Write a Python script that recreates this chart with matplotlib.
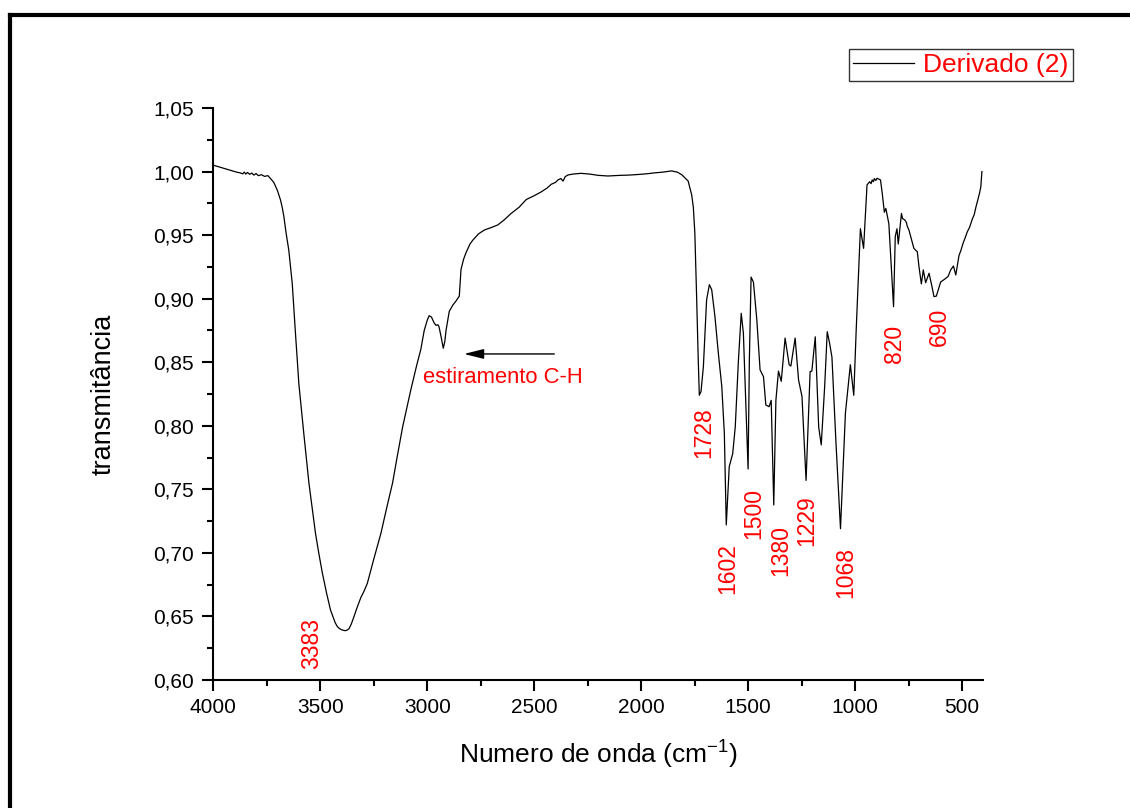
import matplotlib
matplotlib.use("Agg")
import matplotlib.pyplot as plt
from matplotlib.lines import Line2D
from matplotlib.ticker import MultipleLocator, FuncFormatter

plt.rcParams['font.family'] = ['Liberation Sans', 'DejaVu Sans']
plt.rcParams['mathtext.fontset'] = 'custom'
plt.rcParams['mathtext.rm'] = 'Liberation Sans'
plt.rcParams['mathtext.it'] = 'Liberation Sans:italic'

# FTIR spectrum of "Derivado (2)": wavenumber (cm-1) and transmittance
wavenumber = [
    4000, 3960, 3920, 3890, 3875, 3862, 3855, 3848, 3840, 3830, 3820, 3810,
    3800, 3790, 3775, 3760, 3745, 3735, 3717, 3700, 3686, 3678, 3670, 3660,
    3647, 3631, 3616, 3600, 3577, 3553, 3522, 3505, 3490, 3470, 3452, 3440,
    3430, 3420, 3410, 3400, 3390, 3383, 3375, 3365, 3355, 3342, 3330, 3310,
    3295, 3280, 3250, 3217, 3190, 3162, 3140, 3115,
    3077, 3050, 3030, 3014, 3000, 2991, 2980, 2968, 2959, 2950, 2945, 2935,
    2925, 2918, 2912, 2897, 2880, 2866, 2850, 2842, 2830, 2819, 2800, 2787,
    2760, 2733, 2700, 2670, 2640, 2608, 2570, 2537, 2500, 2467, 2440, 2420,
    2400, 2389, 2375, 2365, 2355, 2342, 2320, 2280, 2240, 2200, 2155, 2100,
    2060, 2030, 1990, 1960, 1936, 1900, 1858, 1830, 1810, 1795, 1780, 1772,
    1764, 1756, 1749, 1741, 1733, 1728, 1720, 1709, 1694, 1681, 1670, 1655,
    1639, 1623, 1611, 1602, 1588, 1572, 1560, 1545, 1532, 1522, 1500, 1494,
    1486, 1475, 1459, 1444, 1428, 1417, 1402, 1392, 1380, 1370, 1358, 1345,
    1327, 1308, 1300, 1280, 1264, 1248, 1229, 1210, 1202, 1186, 1170, 1158,
    1142, 1130, 1119, 1108, 1089, 1068, 1045, 1022, 1006, 994, 980, 975,
    960, 944, 932, 925, 920, 914, 910, 903, 897, 888, 881, 873,
    863, 856, 842, 820, 812, 804, 798, 783, 778, 768, 760, 756,
    748, 740, 725, 716, 709, 701, 690, 681, 670, 654, 642, 631,
    620, 600, 588, 576, 565, 553, 540, 529, 514, 505, 495, 485,
    475, 465, 451, 443, 435, 423, 418, 412, 407,
]
transmittance = [
    1.005, 1.003, 1.001, 0.9995, 0.9990, 0.9982, 0.9996, 0.9980, 0.9993, 0.9978, 0.9988, 0.9972,
    0.9985, 0.9968, 0.9975, 0.9962, 0.9968, 0.9950, 0.9914, 0.9850, 0.9777, 0.9720, 0.9645, 0.9520,
    0.9380, 0.9120, 0.8730, 0.8330, 0.7940, 0.7550, 0.7150, 0.6980, 0.6840, 0.6680, 0.6550, 0.6495,
    0.6450, 0.6420, 0.6404, 0.6395, 0.6390, 0.6388, 0.6392, 0.6405, 0.6440, 0.6500, 0.6560, 0.6650,
    0.6700, 0.6760, 0.6950, 0.7150, 0.7350, 0.7550, 0.7760, 0.7990,
    0.8280, 0.8470, 0.8600, 0.8750, 0.8830, 0.8866, 0.8855, 0.8810, 0.8790, 0.8795, 0.8780, 0.8700,
    0.8610, 0.8660, 0.8750, 0.8900, 0.8950, 0.8980, 0.9020, 0.9230, 0.9310, 0.9360, 0.9430, 0.9460,
    0.9510, 0.9540, 0.9560, 0.9580, 0.9620, 0.9670, 0.9720, 0.9780, 0.9810, 0.9840, 0.9870, 0.9900,
    0.9915, 0.9934, 0.9945, 0.9925, 0.9960, 0.9973, 0.9980, 0.9986, 0.9980, 0.9970, 0.9965, 0.9970,
    0.9972, 0.9975, 0.9980, 0.9985, 0.9990, 0.9995, 1.0005, 0.9995, 0.9975, 0.9950, 0.9925, 0.9870,
    0.9820, 0.9720, 0.9520, 0.9040, 0.8520, 0.8240, 0.8270, 0.8465, 0.8990, 0.9110, 0.9070, 0.8860,
    0.8570, 0.8310, 0.7940, 0.7220, 0.7680, 0.7780, 0.7990, 0.8520, 0.8885, 0.8728, 0.7660, 0.8520,
    0.9170, 0.9130, 0.8830, 0.8440, 0.8386, 0.8164, 0.8150, 0.8200, 0.7377, 0.8200, 0.8430, 0.8350,
    0.8690, 0.8480, 0.8470, 0.8690, 0.8360, 0.8230, 0.7570, 0.8426, 0.8430, 0.8700, 0.7990, 0.7850,
    0.8310, 0.8740, 0.8650, 0.8540, 0.7860, 0.7190, 0.8100, 0.8480, 0.8240, 0.8780, 0.9360, 0.9550,
    0.9396, 0.9895, 0.9920, 0.9905, 0.9934, 0.9920, 0.9945, 0.9930, 0.9947, 0.9940, 0.9934, 0.9830,
    0.9680, 0.9710, 0.9590, 0.8937, 0.9490, 0.9550, 0.9430, 0.9670, 0.9630, 0.9620, 0.9600, 0.9570,
    0.9540, 0.9490, 0.9396, 0.9380, 0.9370, 0.9250, 0.9116, 0.9226, 0.9126, 0.9200, 0.9108, 0.9016,
    0.9020, 0.9130, 0.9145, 0.9160, 0.9175, 0.9226, 0.9257, 0.9186, 0.9340, 0.9380, 0.9436, 0.9480,
    0.9527, 0.9560, 0.9630, 0.9660, 0.9720, 0.9800, 0.9830, 0.9880, 1.0000,
]

# Labelled band positions (cm-1) with label anchor (x, top y)
peak_labels = ['3383', '1728', '1602', '1500', '1380', '1229', '1068', '820', '690']
peak_label_x = [3542, 1707, 1597, 1475, 1348, 1226, 1044, 814, 608]
peak_label_y = [0.6488, 0.8148, 0.7078, 0.7510, 0.7220, 0.7456, 0.7046, 0.8793, 0.8927]

series_name = 'Derivado (2)'
x_title = 'Numero de onda (cm$^{\\mathrm{-1}}$)'
y_title = 'transmitância'

fig = plt.figure(figsize=(11.3, 8.08), dpi=100)
ax = fig.add_axes([0.18876, 0.15842, 0.6815, 0.70792])

line, = ax.plot(wavenumber, transmittance, color='black', lw=0.9)

ax.set_xlim(4000, 400)
ax.set_ylim(0.60, 1.05)

for side in ('top', 'right'):
    ax.spines[side].set_visible(False)
for side in ('left', 'bottom'):
    ax.spines[side].set_linewidth(1.5)

ax.xaxis.set_major_locator(MultipleLocator(500))
ax.xaxis.set_minor_locator(MultipleLocator(250))
ax.yaxis.set_major_locator(MultipleLocator(0.05))
ax.yaxis.set_minor_locator(MultipleLocator(0.025))
ax.yaxis.set_major_formatter(FuncFormatter(lambda v, p: f'{v:.2f}'.replace('.', ',')))

ax.tick_params(which='major', direction='out', length=8, width=1.5, labelsize=15)
ax.tick_params(which='minor', direction='out', length=4.3, width=1.5)
ax.tick_params(axis='y', which='major', pad=6)
ax.tick_params(axis='x', which='major', pad=5)

ax.set_xlabel(x_title, fontsize=19, va='baseline')
ax.xaxis.set_label_coords(0.4996, -0.1469)
ax.set_ylabel(y_title, fontsize=19.5)
ax.yaxis.set_label_coords(-0.125, 0.5)

for lab, lx, ly in zip(peak_labels, peak_label_x, peak_label_y):
    ax.text(lx, ly, lab, rotation=90, ha='center', va='top',
            color='red', fontsize=16.5)

# C-H stretching annotation
ax.annotate('', xy=(2828, 0.8565), xytext=(2406, 0.8565),
            arrowprops=dict(arrowstyle='-|>,head_length=1.2,head_width=0.3',
                            color='black', lw=1, mutation_scale=10,
                            shrinkA=0, shrinkB=0))
ax.text(3018, 0.8337, 'estiramento C-H', color='red', fontsize=15.8,
        ha='left', va='baseline')

leg = fig.legend([line], [series_name], loc='upper right',
                 bbox_to_anchor=(0.9493, 0.939), fontsize=19,
                 frameon=True, fancybox=False, handlelength=2.3,
                 handletextpad=0.35, borderpad=0.15, borderaxespad=0.0)
leg.get_frame().set_edgecolor('black')
leg.get_frame().set_linewidth(1.0)
for t in leg.get_texts():
    t.set_color('red')

# Page frame
fig.add_artist(Line2D([0.0091, 0.0091], [0.0, 0.9818], transform=fig.transFigure,
                      color='black', lw=3.0, solid_capstyle='projecting'))
fig.add_artist(Line2D([0.0091, 1.0], [0.9818, 0.9818], transform=fig.transFigure,
                      color='black', lw=3.0, solid_capstyle='projecting'))

fig.savefig('out.png', dpi=100)
